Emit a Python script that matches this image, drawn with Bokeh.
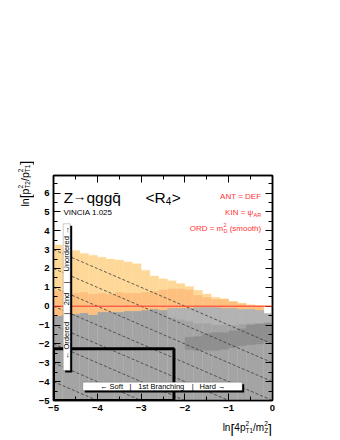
import math
import numpy as np
from bokeh.plotting import figure
from bokeh.layouts import row, column
from bokeh.models import ColumnDataSource, FixedTicker, LinearAxis, Label, BoxAnnotation, Span, Range1d
from bokeh.embed import file_html
from bokeh.resources import INLINE

# ---------------- data ----------------
bin_width = 0.2
x_left_edges = [-5.0, -4.8, -4.6, -4.4, -4.2, -4.0, -3.8, -3.6, -3.4, -3.2, -3.0, -2.8, -2.6,
                -2.4, -2.2, -2.0, -1.8, -1.6, -1.4, -1.2, -1.0, -0.8, -0.6, -0.4, -0.2]
# unordered (orange) region
unordered_top = [3.25, 3.0, 2.95, 2.8, 2.7, 2.6, 2.5, 2.45, 2.35, 2.25, 1.9, 1.6, 1.45,
                 1.35, 1.2, 1.05, 0.85, 0.65, 0.48, 0.38, 0.25, 0.15, 0.07, 0.03, 0.0]
unordered_dense_top = [0.85, 0.8, 0.7, 0.75, 0.65, 0.7, 0.65, 0.75, 0.7, 0.7, 0.75, 0.8, 0.9,
                       0.95, 0.95, 0.9, 0.6, 0.5, 0.4, 0.38, 0.25, 0.15, 0.07, 0.03, 0.0]
unordered_bottom = [-0.5, -0.45, -0.4, -0.35, -0.45, -0.3, -0.3, -0.3, -0.25, -0.25, -0.2, -0.15, -0.2,
                    -0.1, -0.1, -0.1, -0.05, -0.05, -0.05, -0.1, -0.1, -0.15, -0.15, -0.2, 0.0]
# ordered (grey) region
ordered_top = [-0.5, -0.45, -0.4, -0.35, -0.45, -0.3, -0.3, -0.3, -0.25, -0.25, -0.2, -0.15, -0.2,
               -0.1, -0.1, -0.1, -0.05, -0.05, -0.05, -0.1, -0.1, -0.15, -0.15, -0.2, -0.4]
ordered_bottom = [-5.0] * 25
ordered_light_bottom = [-0.5, -0.45, -0.4, -0.35, -0.45, -0.3, -0.3, -0.3, -0.25, -0.25, -0.2, -0.15, -0.2,
                        -0.6, -0.7, -0.8, -0.9, -0.9, -1.0, -1.0, -1.0, -0.95, -0.9, -0.9, -0.85]
dense_x_left = [-2.0, -1.8, -1.6, -1.4, -1.2, -1.0, -0.8, -0.6, -0.4, -0.2]
dense_top = [-1.65, -1.6, -1.45, -1.4, -1.4, -1.3, -1.2, -1.0, -0.95, -0.9]
dense_bottom = [-2.3, -2.35, -2.35, -2.35, -2.3, -2.2, -2.1, -2.05, -2.0, -1.9]
# contours  y + x = c
contour_levels = [-2, -3, -4, -5, -6, -7, -8, -9, -10]
# soft region box
cut_x = -2.25
cut_y = -2.25

x_ticks = [-5, -4, -3, -2, -1, 0]
y_ticks = [-5, -4, -3, -2, -1, 0, 1, 2, 3, 4, 5, 6]

# ---------------- page geometry ----------------
YT_W = 34            # width of the y-title strip
MAIN_W, MAIN_H = 298, 416
XT_H = 20
FX0, FX1, FY0, FY1 = 53.0, 272.0, 175.0, 400.0   # frame in page pixels

X0, X1, Y0, Y1 = -5.0, 0.0, -5.0, 6.93
p = figure(width=MAIN_W, height=MAIN_H, x_range=Range1d(X0, X1), y_range=Range1d(Y0, Y1),
           output_backend="svg", toolbar_location=None, frame_align=False,
           min_border_left=int(FX0 - YT_W), min_border_right=int(YT_W + MAIN_W - FX1),
           min_border_top=int(FY0), min_border_bottom=int(MAIN_H - FY1))
p.xgrid.visible = False
p.ygrid.visible = False
p.outline_line_color = "black"
p.outline_line_width = 1.5
p.background_fill_color = "white"
p.border_fill_color = "white"

FONT = "Liberation Sans"
RED = "#ff3333"

xl = np.array(x_left_edges)
xr = xl + bin_width
src = ColumnDataSource(dict(l=xl, r=xr, ut=unordered_top, udt=unordered_dense_top, ub=unordered_bottom,
                            ot=ordered_top, ob=ordered_bottom, olb=ordered_light_bottom))
LIGHT_OR = "#fed898"
DARK_OR = "#fdc07f"
GREY = "#a4a4a4"
LIGHT_GREY = "#b3b3b3"
DARK_GREY = "#8f8f8f"

p.quad(left="l", right="r", bottom="ob", top="ot", source=src, fill_color=GREY, line_color=GREY, line_width=0.3)
p.quad(left="l", right="r", bottom="olb", top="ot", source=src, fill_color=LIGHT_GREY, line_color=LIGHT_GREY, line_width=0.3)
p.quad(left="l", right="r", bottom="ub", top="udt", source=src, fill_color=DARK_OR, line_color=DARK_OR, line_width=0.3)
p.quad(left="l", right="r", bottom="udt", top="ut", source=src, fill_color=LIGHT_OR, line_color=LIGHT_OR, line_width=0.3)
dl = np.array(dense_x_left)
dsrc = ColumnDataSource(dict(l=dl, r=dl + bin_width, t=dense_top, b=dense_bottom))
p.quad(left="l", right="r", bottom="b", top="t", source=dsrc, fill_color=DARK_GREY, line_color=DARK_GREY, line_width=0.3)

# contour lines
cxs = [[X0, X1] for c in contour_levels]
cys = [[c - X0, c - X1] for c in contour_levels]
p.multi_line(cxs, cys, line_color="#3a3a3a", line_width=0.8, line_dash="3 2")

# soft-region box
p.quad(left=[X0], right=[cut_x], bottom=[Y0], top=[cut_y], fill_alpha=0, line_color="black", line_width=3)

p.add_layout(Span(location=0, dimension="width", line_color=RED, line_width=1.0))

# ---------------- axes ----------------
x_ticker = FixedTicker(ticks=x_ticks, minor_ticks=list(np.arange(-5, 0.01, 0.5)))
y_ticker = FixedTicker(ticks=y_ticks, minor_ticks=list(np.arange(-5, 6.99, 0.5)))

def style_axis(ax, ticker, labels, ticks):
    ax.ticker = ticker
    ax.major_tick_in = 7
    ax.major_tick_out = 0
    ax.minor_tick_in = 4
    ax.minor_tick_out = 0
    ax.axis_line_width = 1.5
    ax.major_tick_line_width = 1
    ax.minor_tick_line_width = 1
    ax.major_label_text_font = FONT
    ax.major_label_text_font_style = "bold"
    ax.major_label_text_font_size = "9.5px"
    ax.major_label_text_color = "black"
    if labels:
        ax.major_label_overrides = {t: str(t).replace("-", "\u2212") for t in ticks}
    else:
        ax.major_label_overrides = {t: "" for t in ticks}

style_axis(p.xaxis[0], x_ticker, True, x_ticks)
p.xaxis[0].major_label_standoff = 4
style_axis(p.yaxis[0], y_ticker, True, y_ticks)
p.yaxis[0].major_label_standoff = 4
top_ax = LinearAxis()
style_axis(top_ax, x_ticker, False, x_ticks)
p.add_layout(top_ax, "above")
right_ax = LinearAxis()
style_axis(right_ax, y_ticker, False, y_ticks)
p.add_layout(right_ax, "right")

# ---------------- text helpers ----------------
def dx(px):
    return X0 + (px - FX0) * (X1 - X0) / (FX1 - FX0)

def dy(py):
    return Y1 - (py - FY0) * (Y1 - Y0) / (FY1 - FY0)

W = {'l': 222, 'n': 556, '[': 278, ']': 278, '4': 556, 'p': 556, '2': 556, 'T': 611, '1': 556,
     '/': 278, 'm': 833, 'Z': 611, '(': 333, ')': 333, 's': 500, 'o': 556, 't': 278, 'h': 556,
     'A': 667, 'R': 722, 'D': 722, ' ': 278, '<': 584, '>': 584}

def tw(s, size):
    return sum(W.get(ch, 556) for ch in s) * size / 1000.0

def lab(fig, text, x, y, size, color="black", align="left", baseline="alphabetic", angle=0.0):
    fig.add_layout(Label(x=x, y=y, text=text, text_font=FONT, text_font_size=f"{size}px",
                         text_color=color, text_align=align, text_baseline=baseline, angle=angle))

def put(text, px, py, size, **kw):
    lab(p, text, dx(px), dy(py), size, **kw)

# title texts
put("Z", 63.3, 197, 15.5)
put("\u2192", 72.3, 195.5, 13.5)
put("qggq\u0304", 86, 197, 15.5)
put("<R", 145, 197, 15.5)
put("4", 145 + tw("<R", 15.5), 200.5, 10)
put(">", 145 + tw("<R", 15.5) + tw("4", 10) + 0.5, 197, 15.5)
put("VINCIA 1.025", 63, 212, 8)

put("ANT = DEF", 260.7, 196.2, 8, color=RED, align="right")
put("AR", 260.7, 214.2, 5.5, color=RED, align="right")
put("KIN = \u03c8", 260.7 - tw("AR", 5.5) - 0.3, 212.2, 8, color=RED, align="right")
put("(smooth)", 260.7, 228, 8, color=RED, align="right")
bx = 260.7 - tw("(smooth)", 8) - tw(" ", 8) - tw("D", 5.5)
put("2", bx, 224.5, 5.5, color=RED)
put("D", bx, 230, 5.5, color=RED)
put("ORD = m", bx - 0.2, 228, 8, color=RED, align="right")

A = math.pi / 2
# vertical legend box
p.add_layout(BoxAnnotation(left=dx(64.7), right=dx(71.7), top=dy(225.3), bottom=dy(372),
                           fill_color="black", fill_alpha=1, line_color=None))
p.add_layout(BoxAnnotation(left=dx(62.7), right=dx(69.7), top=dy(223.3), bottom=dy(370),
                           fill_color="white", fill_alpha=1, line_color="black", line_width=0.7))
VX = 66.4
put("Unordered \u2192", VX, 248.5, 7.5, align="center", baseline="middle", angle=A)
put("|", VX, 281.7, 7.5, align="center", baseline="middle", angle=A)
put("2nd", VX, 298.5, 7.5, align="center", baseline="middle", angle=A)
put("|", VX, 313.3, 7.5, align="center", baseline="middle", angle=A)
put("\u2190 Ordered", VX, 340, 7.5, align="center", baseline="middle", angle=A)

# horizontal legend box
p.add_layout(BoxAnnotation(left=dx(84.3), right=dx(243.7), top=dy(383.7), bottom=dy(392),
                           fill_color="black", fill_alpha=1, line_color=None))
p.add_layout(BoxAnnotation(left=dx(82.3), right=dx(241.7), top=dy(381.7), bottom=dy(390),
                           fill_color="white", fill_alpha=1, line_color="black", line_width=0.7))
HY = 386
put("\u2190 Soft", 111, HY, 7.5, align="center", baseline="middle")
put("|", 130, HY, 7.5, align="center", baseline="middle")
put("1st Branching", 160.8, HY, 7.5, align="center", baseline="middle")
put("|", 192.3, HY, 7.5, align="center", baseline="middle")
put("Hard \u2192", 212, HY, 7.5, align="center", baseline="middle")

# ---------------- axis-title strips (page-pixel coordinates) ----------------
def blank_fig(w, h, xr_, yr_):
    f = figure(width=w, height=h, x_range=Range1d(*xr_), y_range=Range1d(*yr_),
               output_backend="svg", toolbar_location=None, frame_align=False,
               x_axis_location=None, y_axis_location=None, min_border=0)
    f.outline_line_color = None
    f.background_fill_color = "white"
    f.border_fill_color = "white"
    f.grid.visible = False
    return f

TOTAL_H = MAIN_H + XT_H
yfig = blank_fig(YT_W, TOTAL_H, (0, YT_W), (TOTAL_H, 0))
xfig = blank_fig(MAIN_W, XT_H, (YT_W, YT_W + MAIN_W), (TOTAL_H, MAIN_H))

S, SS, BS = 10, 6.5, 14
# x-axis title  ln[4p^2_T1 / m^2_Z]
parts_w = (tw("ln", S) + tw("[", BS) + tw("4p", S) + max(tw("2", SS), tw("T1", SS)) +
           tw("/m", S) + max(tw("2", SS), tw("Z", SS)) + tw("]", BS))
x = 271.5 - parts_w
BL = 427
lab(xfig, "ln", x, BL, S); x += tw("ln", S)
lab(xfig, "[", x, BL + 2, BS); x += tw("[", BS)
lab(xfig, "4p", x, BL, S); x += tw("4p", S)
lab(xfig, "2", x, BL - 4.5, SS); lab(xfig, "T1", x, BL + 3, SS); x += max(tw("2", SS), tw("T1", SS))
lab(xfig, "/m", x, BL, S); x += tw("/m", S)
lab(xfig, "2", x, BL - 4.5, SS); lab(xfig, "Z", x, BL + 3, SS); x += max(tw("2", SS), tw("Z", SS))
lab(xfig, "]", x, BL + 2, BS)

# y-axis title  ln[p^2_T2 / p^2_T1]  (rotated)
S2 = 10.5
yb = 24.0
y = 206.0
lab(yfig, "ln", yb, y, S2, angle=A); y -= tw("ln", S2)
lab(yfig, "[", yb + 1.5, y, BS, angle=A); y -= tw("[", BS)
lab(yfig, "p", yb, y, S2, angle=A); y -= tw("p", S2)
lab(yfig, "2", yb - 4.5, y, SS, angle=A); lab(yfig, "T2", yb + 3, y, SS, angle=A); y -= max(tw("2", SS), tw("T2", SS))
lab(yfig, "/p", yb, y, S2, angle=A); y -= tw("/p", S2)
lab(yfig, "2", yb - 4.5, y, SS, angle=A); lab(yfig, "T1", yb + 3, y, SS, angle=A); y -= max(tw("2", SS), tw("T1", SS))
lab(yfig, "]", yb + 1.5, y, BS, angle=A)

layout = row(yfig, column(p, xfig, spacing=0), spacing=0)
open("out.html", "w").write(file_html(layout, INLINE))
